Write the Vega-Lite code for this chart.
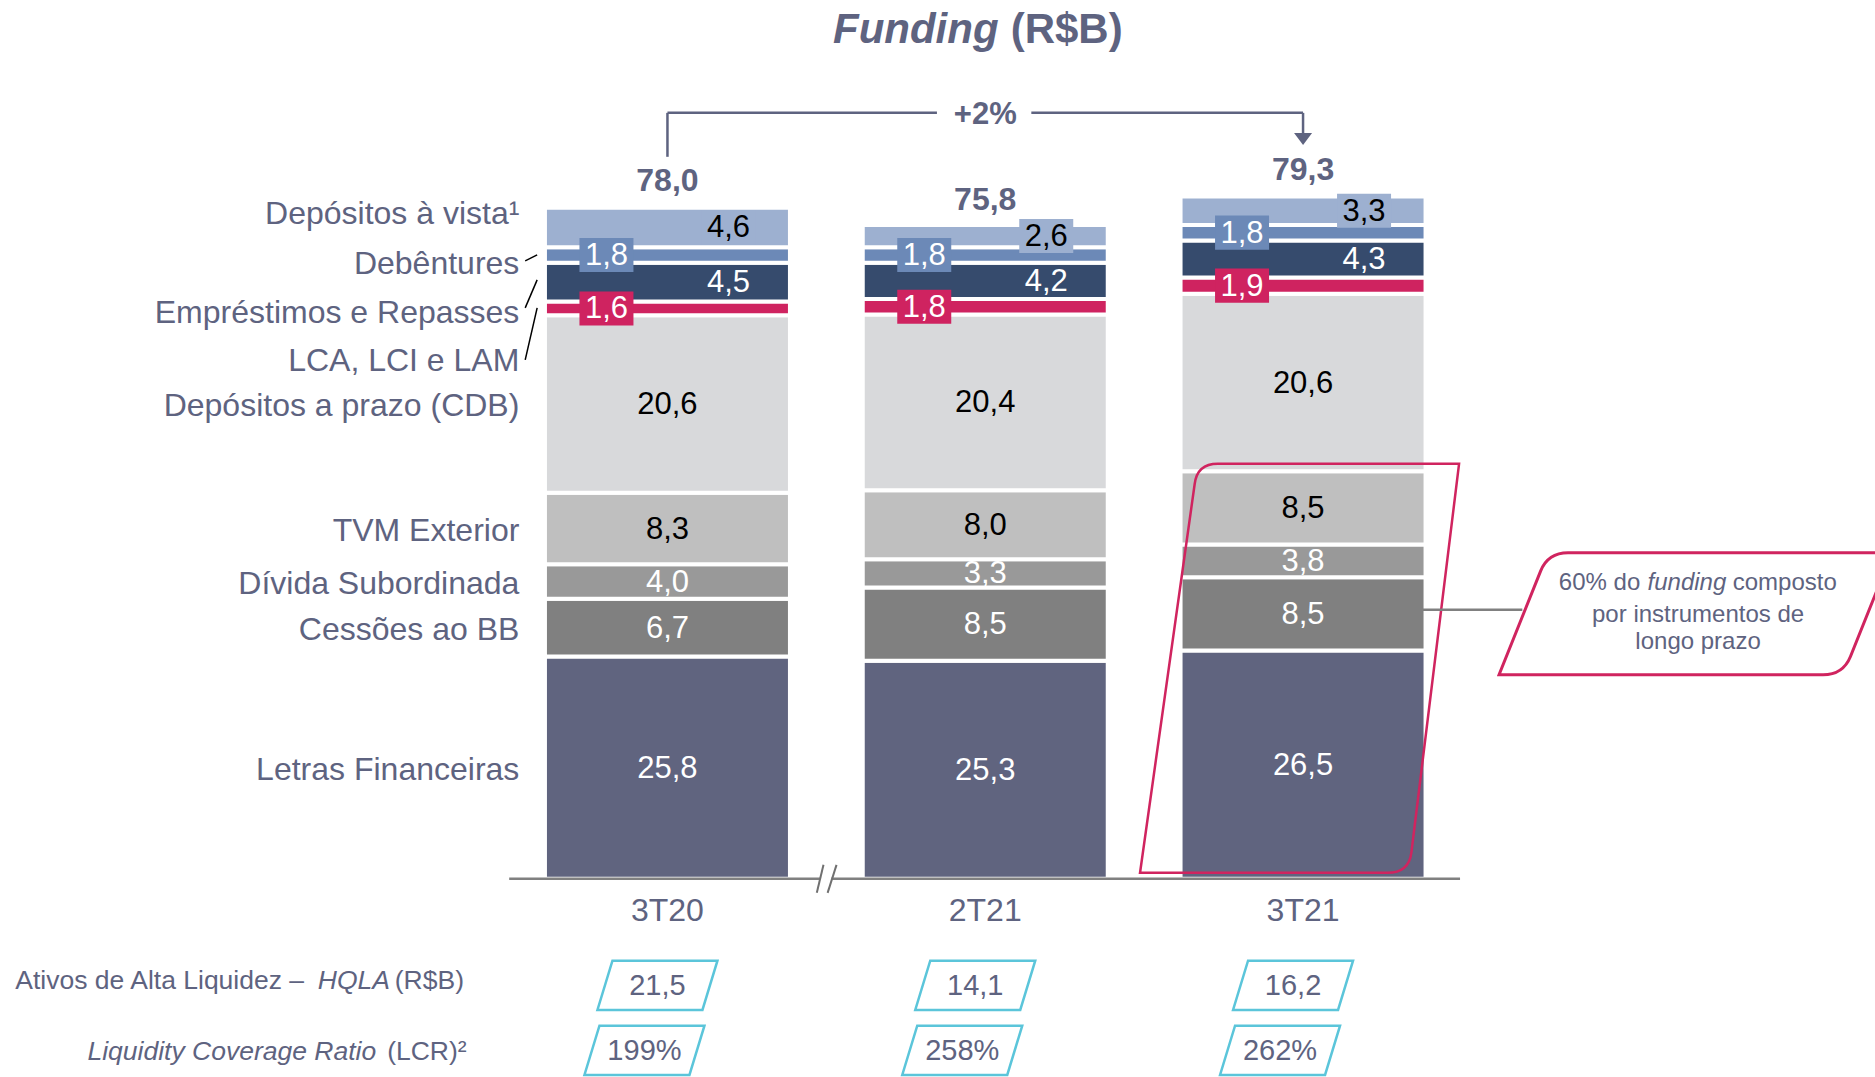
{
  "$schema": "https://vega.github.io/schema/vega-lite/v6.json",
  "width": 1875,
  "height": 1077,
  "autosize": "none",
  "padding": 0,
  "background": "white",
  "config": {
    "view": {"stroke": null},
    "locale": {"number": {"decimal": ",", "thousands": ".", "grouping": [3], "currency": ["R$", ""]}},
    "text": {"font": "Liberation Sans"}
  },
  "datasets": {
    "one": [{}],
    "funding": [
      {"period": "3T20", "t": 1, "series": "Letras Financeiras", "ord": 1, "value": 25.8},
      {"period": "3T20", "t": 1, "series": "Cessões ao BB", "ord": 2, "value": 6.7},
      {"period": "3T20", "t": 1, "series": "Dívida Subordinada", "ord": 3, "value": 4.0},
      {"period": "3T20", "t": 1, "series": "TVM Exterior", "ord": 4, "value": 8.3},
      {"period": "3T20", "t": 1, "series": "Depósitos a prazo (CDB)", "ord": 5, "value": 20.6},
      {"period": "3T20", "t": 1, "series": "LCA, LCI e LAM", "ord": 6, "value": 1.6},
      {"period": "3T20", "t": 1, "series": "Empréstimos e Repasses", "ord": 7, "value": 4.5},
      {"period": "3T20", "t": 1, "series": "Debêntures", "ord": 8, "value": 1.8},
      {"period": "3T20", "t": 1, "series": "Depósitos à vista¹", "ord": 9, "value": 4.6},
      {"period": "2T21", "t": 2, "series": "Letras Financeiras", "ord": 1, "value": 25.3},
      {"period": "2T21", "t": 2, "series": "Cessões ao BB", "ord": 2, "value": 8.5},
      {"period": "2T21", "t": 2, "series": "Dívida Subordinada", "ord": 3, "value": 3.3},
      {"period": "2T21", "t": 2, "series": "TVM Exterior", "ord": 4, "value": 8.0},
      {"period": "2T21", "t": 2, "series": "Depósitos a prazo (CDB)", "ord": 5, "value": 20.4},
      {"period": "2T21", "t": 2, "series": "LCA, LCI e LAM", "ord": 6, "value": 1.8},
      {"period": "2T21", "t": 2, "series": "Empréstimos e Repasses", "ord": 7, "value": 4.2},
      {"period": "2T21", "t": 2, "series": "Debêntures", "ord": 8, "value": 1.8},
      {"period": "2T21", "t": 2, "series": "Depósitos à vista¹", "ord": 9, "value": 2.6},
      {"period": "3T21", "t": 3, "series": "Letras Financeiras", "ord": 1, "value": 26.5},
      {"period": "3T21", "t": 3, "series": "Cessões ao BB", "ord": 2, "value": 8.5},
      {"period": "3T21", "t": 3, "series": "Dívida Subordinada", "ord": 3, "value": 3.8},
      {"period": "3T21", "t": 3, "series": "TVM Exterior", "ord": 4, "value": 8.5},
      {"period": "3T21", "t": 3, "series": "Depósitos a prazo (CDB)", "ord": 5, "value": 20.6},
      {"period": "3T21", "t": 3, "series": "LCA, LCI e LAM", "ord": 6, "value": 1.9},
      {"period": "3T21", "t": 3, "series": "Empréstimos e Repasses", "ord": 7, "value": 4.3},
      {"period": "3T21", "t": 3, "series": "Debêntures", "ord": 8, "value": 1.8},
      {"period": "3T21", "t": 3, "series": "Depósitos à vista¹", "ord": 9, "value": 3.3}
    ],
    "summary": [
      {"period": "3T20", "t": 1, "total": 78.0, "hqla": 21.5, "lcr": 1.99},
      {"period": "2T21", "t": 2, "total": 75.8, "hqla": 14.1, "lcr": 2.58},
      {"period": "3T21", "t": 3, "total": 79.3, "hqla": 16.2, "lcr": 2.62}
    ]
  },
  "data": {"name": "one"},
  "layer": [
    {
      "data": {"name": "funding"},
      "transform": [{"stack": "value", "groupby": ["period"], "sort": [{"field": "ord", "order": "ascending"}], "as": ["y0", "y1"]}],
      "mark": {"type": "bar", "width": 245, "stroke": "white", "strokeWidth": 4},
      "encoding": {
        "x": {"field": "t", "type": "quantitative", "scale": {"domain": [-1.0845, 4.784], "nice": false, "zero": false}, "axis": null},
        "y": {"field": "y0", "type": "quantitative", "scale": {"domain": [-23, 102], "nice": false, "zero": false}, "axis": null},
        "y2": {"field": "y1"},
        "color": {"field": "series", "type": "nominal", "legend": null,
          "scale": {"domain": ["Letras Financeiras", "Cessões ao BB", "Dívida Subordinada", "TVM Exterior", "Depósitos a prazo (CDB)", "LCA, LCI e LAM", "Empréstimos e Repasses", "Debêntures", "Depósitos à vista¹"],
                    "range": ["#60647f", "#808080", "#999999", "#bfbfbf", "#d8d9db", "#cf2360", "#364b6d", "#6c89b7", "#9db0d0"]}}
      }
    },
    {
      "mark": {"type": "point", "shape": "M-0.40,-1 L0.78,-1 L0.547,0.90 Q0.535,1 0.43,1 L-0.78,1 L-0.513,-0.90 Q-0.501,-1 -0.40,-1 Z", "size": 167281, "filled": false, "stroke": "#d0245f", "strokeWidth": 2.5, "opacity": 1},
      "encoding": {
        "x": {"datum": 2.989, "type": "quantitative", "scale": {"domain": [-1.0845, 4.784], "nice": false, "zero": false}},
        "y": {"datum": 24.43, "type": "quantitative", "scale": {"domain": [-23, 102], "nice": false, "zero": false}}
      }
    },
    {
      "mark": {"type": "rule", "color": "#808080", "strokeWidth": 2.5},
      "encoding": {
        "x": {"datum": 3.284, "type": "quantitative", "scale": {"domain": [-1.0845, 4.784], "nice": false, "zero": false}},
        "x2": {"datum": 3.69},
        "y": {"datum": 31.22, "type": "quantitative", "scale": {"domain": [-23, 102], "nice": false, "zero": false}}
      }
    },
    {
      "mark": {"type": "point", "shape": "M-2.09,-1 L3.221,-1 L2.54,0.70 Q2.418,1 2.09,1 L-3.221,1 L-2.54,-0.70 Q-2.418,-1 -2.09,-1 Z", "size": 14884, "filled": true, "fill": "white", "stroke": "#d0245f", "strokeWidth": 3, "opacity": 1},
      "encoding": {
        "x": {"datum": 4.235, "type": "quantitative", "scale": {"domain": [-1.0845, 4.784], "nice": false, "zero": false}},
        "y": {"datum": 30.76, "type": "quantitative", "scale": {"domain": [-23, 102], "nice": false, "zero": false}}
      }
    },
    {
      "data": {"name": "funding"},
      "transform": [
        {"stack": "value", "groupby": ["period"], "sort": [{"field": "ord", "order": "ascending"}], "as": ["y0", "y1"]},
        {"fold": ["y0", "y1"], "as": ["edge", "pos"]},
        {"aggregate": [{"op": "mean", "field": "pos", "as": "mid"}], "groupby": ["period", "t", "series", "value"]}
      ],
      "layer": [
        {
          "transform": [{"filter": {"field": "series", "oneOf": ["Letras Financeiras", "Cessões ao BB", "Dívida Subordinada"]}}],
          "mark": {"type": "text", "fontSize": 31, "color": "white", "baseline": "middle", "align": "center", "dy": 1},
          "encoding": {
            "x": {"field": "t", "type": "quantitative", "scale": {"domain": [-1.0845, 4.784], "nice": false, "zero": false}},
            "y": {"field": "mid", "type": "quantitative", "scale": {"domain": [-23, 102], "nice": false, "zero": false}},
            "text": {"field": "value", "type": "quantitative", "format": ".1f"}
          }
        },
        {
          "transform": [{"filter": {"field": "series", "oneOf": ["TVM Exterior", "Depósitos a prazo (CDB)"]}}],
          "mark": {"type": "text", "fontSize": 31, "color": "black", "baseline": "middle", "align": "center", "dy": 1},
          "encoding": {
            "x": {"field": "t", "type": "quantitative", "scale": {"domain": [-1.0845, 4.784], "nice": false, "zero": false}},
            "y": {"field": "mid", "type": "quantitative", "scale": {"domain": [-23, 102], "nice": false, "zero": false}},
            "text": {"field": "value", "type": "quantitative", "format": ".1f"}
          }
        },
        {
          "transform": [{"filter": {"field": "series", "oneOf": ["Debêntures", "LCA, LCI e LAM"]}}],
          "mark": {"type": "point", "shape": "M-1,-0.63 L1,-0.63 L1,0.63 L-1,0.63 Z", "size": 2916, "filled": true, "opacity": 1, "strokeWidth": 0, "xOffset": -61},
          "encoding": {
            "x": {"field": "t", "type": "quantitative", "scale": {"domain": [-1.0845, 4.784], "nice": false, "zero": false}},
            "y": {"field": "mid", "type": "quantitative", "scale": {"domain": [-23, 102], "nice": false, "zero": false}},
            "color": {"field": "series", "type": "nominal", "legend": null,
              "scale": {"domain": ["Letras Financeiras", "Cessões ao BB", "Dívida Subordinada", "TVM Exterior", "Depósitos a prazo (CDB)", "LCA, LCI e LAM", "Empréstimos e Repasses", "Debêntures", "Depósitos à vista¹"],
                        "range": ["#60647f", "#808080", "#999999", "#bfbfbf", "#d8d9db", "#cf2360", "#364b6d", "#6c89b7", "#9db0d0"]}}
          }
        },
        {
          "transform": [{"filter": {"field": "series", "oneOf": ["Debêntures", "LCA, LCI e LAM"]}}],
          "mark": {"type": "text", "fontSize": 31, "color": "white", "baseline": "middle", "align": "center", "dx": -61, "dy": 1},
          "encoding": {
            "x": {"field": "t", "type": "quantitative", "scale": {"domain": [-1.0845, 4.784], "nice": false, "zero": false}},
            "y": {"field": "mid", "type": "quantitative", "scale": {"domain": [-23, 102], "nice": false, "zero": false}},
            "text": {"field": "value", "type": "quantitative", "format": ".1f"}
          }
        },
        {
          "transform": [{"filter": {"field": "series", "equal": "Depósitos à vista¹"}}],
          "mark": {"type": "point", "shape": "M-1,-0.63 L1,-0.63 L1,0.63 L-1,0.63 Z", "size": 2916, "filled": true, "opacity": 1, "strokeWidth": 0, "xOffset": 61},
          "encoding": {
            "x": {"field": "t", "type": "quantitative", "scale": {"domain": [-1.0845, 4.784], "nice": false, "zero": false}},
            "y": {"field": "mid", "type": "quantitative", "scale": {"domain": [-23, 102], "nice": false, "zero": false}},
            "color": {"field": "series", "type": "nominal", "legend": null,
              "scale": {"domain": ["Letras Financeiras", "Cessões ao BB", "Dívida Subordinada", "TVM Exterior", "Depósitos a prazo (CDB)", "LCA, LCI e LAM", "Empréstimos e Repasses", "Debêntures", "Depósitos à vista¹"],
                        "range": ["#60647f", "#808080", "#999999", "#bfbfbf", "#d8d9db", "#cf2360", "#364b6d", "#6c89b7", "#9db0d0"]}}
          }
        },
        {
          "transform": [{"filter": {"field": "series", "equal": "Depósitos à vista¹"}}],
          "mark": {"type": "text", "fontSize": 31, "color": "black", "baseline": "middle", "align": "center", "dx": 61, "dy": 1},
          "encoding": {
            "x": {"field": "t", "type": "quantitative", "scale": {"domain": [-1.0845, 4.784], "nice": false, "zero": false}},
            "y": {"field": "mid", "type": "quantitative", "scale": {"domain": [-23, 102], "nice": false, "zero": false}},
            "text": {"field": "value", "type": "quantitative", "format": ".1f"}
          }
        },
        {
          "transform": [{"filter": {"field": "series", "equal": "Empréstimos e Repasses"}}],
          "mark": {"type": "text", "fontSize": 31, "color": "white", "baseline": "middle", "align": "center", "dx": 61, "dy": 1},
          "encoding": {
            "x": {"field": "t", "type": "quantitative", "scale": {"domain": [-1.0845, 4.784], "nice": false, "zero": false}},
            "y": {"field": "mid", "type": "quantitative", "scale": {"domain": [-23, 102], "nice": false, "zero": false}},
            "text": {"field": "value", "type": "quantitative", "format": ".1f"}
          }
        },
        {
          "transform": [{"filter": {"field": "period", "equal": "3T20"}}, {"filter": {"field": "series", "oneOf": ["Letras Financeiras", "Cessões ao BB", "Dívida Subordinada", "TVM Exterior", "Depósitos a prazo (CDB)"]}}],
          "mark": {"type": "text", "fontSize": 32, "color": "#5e6380", "baseline": "middle", "align": "right", "dy": 2},
          "encoding": {
            "x": {"datum": 0.534, "type": "quantitative", "scale": {"domain": [-1.0845, 4.784], "nice": false, "zero": false}},
            "y": {"field": "mid", "type": "quantitative", "scale": {"domain": [-23, 102], "nice": false, "zero": false}},
            "text": {"field": "series", "type": "nominal"}
          }
        },
        {
          "transform": [{"filter": {"field": "period", "equal": "3T20"}}, {"filter": {"field": "series", "equal": "Depósitos à vista¹"}}],
          "mark": {"type": "text", "fontSize": 32, "color": "#5e6380", "baseline": "middle", "align": "right", "dy": -13},
          "encoding": {
            "x": {"datum": 0.534, "type": "quantitative", "scale": {"domain": [-1.0845, 4.784], "nice": false, "zero": false}},
            "y": {"field": "mid", "type": "quantitative", "scale": {"domain": [-23, 102], "nice": false, "zero": false}},
            "text": {"field": "series", "type": "nominal"}
          }
        },
        {
          "transform": [{"filter": {"field": "period", "equal": "3T20"}}, {"filter": {"field": "series", "equal": "Debêntures"}}],
          "mark": {"type": "text", "fontSize": 32, "color": "#5e6380", "baseline": "middle", "align": "right", "dy": 8.5},
          "encoding": {
            "x": {"datum": 0.534, "type": "quantitative", "scale": {"domain": [-1.0845, 4.784], "nice": false, "zero": false}},
            "y": {"field": "mid", "type": "quantitative", "scale": {"domain": [-23, 102], "nice": false, "zero": false}},
            "text": {"field": "series", "type": "nominal"}
          }
        },
        {
          "transform": [{"filter": {"field": "period", "equal": "3T20"}}, {"filter": {"field": "series", "equal": "Empréstimos e Repasses"}}],
          "mark": {"type": "text", "fontSize": 32, "color": "#5e6380", "baseline": "middle", "align": "right", "dy": 30.5},
          "encoding": {
            "x": {"datum": 0.534, "type": "quantitative", "scale": {"domain": [-1.0845, 4.784], "nice": false, "zero": false}},
            "y": {"field": "mid", "type": "quantitative", "scale": {"domain": [-23, 102], "nice": false, "zero": false}},
            "text": {"field": "series", "type": "nominal"}
          }
        },
        {
          "transform": [{"filter": {"field": "period", "equal": "3T20"}}, {"filter": {"field": "series", "equal": "LCA, LCI e LAM"}}],
          "mark": {"type": "text", "fontSize": 32, "color": "#5e6380", "baseline": "middle", "align": "right", "dy": 53},
          "encoding": {
            "x": {"datum": 0.534, "type": "quantitative", "scale": {"domain": [-1.0845, 4.784], "nice": false, "zero": false}},
            "y": {"field": "mid", "type": "quantitative", "scale": {"domain": [-23, 102], "nice": false, "zero": false}},
            "text": {"field": "series", "type": "nominal"}
          }
        }
      ]
    },
    {
      "data": {"name": "summary"},
      "layer": [
        {
          "mark": {"type": "text", "fontSize": 32, "fontWeight": "bold", "color": "#5e6380", "baseline": "bottom", "align": "center", "dy": -9},
          "encoding": {
            "x": {"field": "t", "type": "quantitative", "scale": {"domain": [-1.0845, 4.784], "nice": false, "zero": false}},
            "y": {"field": "total", "type": "quantitative", "scale": {"domain": [-23, 102], "nice": false, "zero": false}},
            "text": {"field": "total", "type": "quantitative", "format": ".1f"}
          }
        },
        {
          "mark": {"type": "text", "fontSize": 32, "color": "#5e6380", "baseline": "middle", "align": "center"},
          "encoding": {
            "x": {"field": "t", "type": "quantitative", "scale": {"domain": [-1.0845, 4.784], "nice": false, "zero": false}},
            "y": {"datum": -3.7, "type": "quantitative", "scale": {"domain": [-23, 102], "nice": false, "zero": false}},
            "text": {"field": "period", "type": "nominal"}
          }
        },
        {
          "mark": {"type": "point", "shape": "M-0.75,-0.41 L1,-0.41 L0.75,0.41 L-1,0.41 Z", "size": 14400, "filled": true, "fill": "white", "stroke": "#5bc5da", "strokeWidth": 2.5, "opacity": 1, "xOffset": -10},
          "encoding": {
            "x": {"field": "t", "type": "quantitative", "scale": {"domain": [-1.0845, 4.784], "nice": false, "zero": false}},
            "y": {"datum": -12.36, "type": "quantitative", "scale": {"domain": [-23, 102], "nice": false, "zero": false}}
          }
        },
        {
          "mark": {"type": "text", "fontSize": 29, "color": "#5e6380", "baseline": "middle", "align": "center", "dx": -10, "dy": 1},
          "encoding": {
            "x": {"field": "t", "type": "quantitative", "scale": {"domain": [-1.0845, 4.784], "nice": false, "zero": false}},
            "y": {"datum": -12.36, "type": "quantitative", "scale": {"domain": [-23, 102], "nice": false, "zero": false}},
            "text": {"field": "hqla", "type": "quantitative", "format": ".1f"}
          }
        },
        {
          "mark": {"type": "point", "shape": "M-0.75,-0.41 L1,-0.41 L0.75,0.41 L-1,0.41 Z", "size": 14400, "filled": true, "fill": "white", "stroke": "#5bc5da", "strokeWidth": 2.5, "opacity": 1, "xOffset": -23},
          "encoding": {
            "x": {"field": "t", "type": "quantitative", "scale": {"domain": [-1.0845, 4.784], "nice": false, "zero": false}},
            "y": {"datum": -19.9, "type": "quantitative", "scale": {"domain": [-23, 102], "nice": false, "zero": false}}
          }
        },
        {
          "mark": {"type": "text", "fontSize": 29, "color": "#5e6380", "baseline": "middle", "align": "center", "dx": -23, "dy": 1},
          "encoding": {
            "x": {"field": "t", "type": "quantitative", "scale": {"domain": [-1.0845, 4.784], "nice": false, "zero": false}},
            "y": {"datum": -19.9, "type": "quantitative", "scale": {"domain": [-23, 102], "nice": false, "zero": false}},
            "text": {"field": "lcr", "type": "quantitative", "format": ".0%"}
          }
        }
      ]
    },
    {
      "mark": {"type": "rule", "color": "#808080", "strokeWidth": 2.5},
      "encoding": {
        "x": {"datum": 0.502, "type": "quantitative", "scale": {"domain": [-1.0845, 4.784], "nice": false, "zero": false}},
        "x2": {"datum": 1.48},
        "y": {"datum": 0, "type": "quantitative", "scale": {"domain": [-23, 102], "nice": false, "zero": false}}
      }
    },
    {
      "mark": {"type": "rule", "color": "#808080", "strokeWidth": 2.5},
      "encoding": {
        "x": {"datum": 1.516, "type": "quantitative", "scale": {"domain": [-1.0845, 4.784], "nice": false, "zero": false}},
        "x2": {"datum": 3.494},
        "y": {"datum": 0, "type": "quantitative", "scale": {"domain": [-23, 102], "nice": false, "zero": false}}
      }
    },
    {
      "mark": {"type": "rule", "color": "#707070", "strokeWidth": 2},
      "encoding": {
        "x": {"datum": 1.470, "type": "quantitative", "scale": {"domain": [-1.0845, 4.784], "nice": false, "zero": false}},
        "x2": {"datum": 1.491},
        "y": {"datum": -1.625, "type": "quantitative", "scale": {"domain": [-23, 102], "nice": false, "zero": false}},
        "y2": {"datum": 1.625}
      }
    },
    {
      "mark": {"type": "rule", "color": "#707070", "strokeWidth": 2},
      "encoding": {
        "x": {"datum": 1.504, "type": "quantitative", "scale": {"domain": [-1.0845, 4.784], "nice": false, "zero": false}},
        "x2": {"datum": 1.532},
        "y": {"datum": -1.625, "type": "quantitative", "scale": {"domain": [-23, 102], "nice": false, "zero": false}},
        "y2": {"datum": 1.625}
      }
    },
    {
      "mark": {"type": "rule", "color": "black", "strokeWidth": 1.5},
      "encoding": {
        "x": {"datum": 0.5524, "type": "quantitative", "scale": {"domain": [-1.0845, 4.784], "nice": false, "zero": false}},
        "x2": {"datum": 0.590},
        "y": {"datum": 71.73, "type": "quantitative", "scale": {"domain": [-23, 102], "nice": false, "zero": false}},
        "y2": {"datum": 72.42}
      }
    },
    {
      "mark": {"type": "rule", "color": "black", "strokeWidth": 1.5},
      "encoding": {
        "x": {"datum": 0.5524, "type": "quantitative", "scale": {"domain": [-1.0845, 4.784], "nice": false, "zero": false}},
        "x2": {"datum": 0.590},
        "y": {"datum": 66.27, "type": "quantitative", "scale": {"domain": [-23, 102], "nice": false, "zero": false}},
        "y2": {"datum": 69.52}
      }
    },
    {
      "mark": {"type": "rule", "color": "black", "strokeWidth": 1.5},
      "encoding": {
        "x": {"datum": 0.5524, "type": "quantitative", "scale": {"domain": [-1.0845, 4.784], "nice": false, "zero": false}},
        "x2": {"datum": 0.590},
        "y": {"datum": 60.24, "type": "quantitative", "scale": {"domain": [-23, 102], "nice": false, "zero": false}},
        "y2": {"datum": 66.27}
      }
    },
    {
      "mark": {"type": "rule", "color": "#5e6380", "strokeWidth": 2.5},
      "encoding": {
        "x": {"datum": 1.0, "type": "quantitative", "scale": {"domain": [-1.0845, 4.784], "nice": false, "zero": false}},
        "y": {"datum": 83.8, "type": "quantitative", "scale": {"domain": [-23, 102], "nice": false, "zero": false}},
        "y2": {"datum": 88.9}
      }
    },
    {
      "mark": {"type": "rule", "color": "#5e6380", "strokeWidth": 2.5},
      "encoding": {
        "x": {"datum": 1.0, "type": "quantitative", "scale": {"domain": [-1.0845, 4.784], "nice": false, "zero": false}},
        "x2": {"datum": 1.848},
        "y": {"datum": 88.9, "type": "quantitative", "scale": {"domain": [-23, 102], "nice": false, "zero": false}}
      }
    },
    {
      "mark": {"type": "rule", "color": "#5e6380", "strokeWidth": 2.5},
      "encoding": {
        "x": {"datum": 2.145, "type": "quantitative", "scale": {"domain": [-1.0845, 4.784], "nice": false, "zero": false}},
        "x2": {"datum": 3.0},
        "y": {"datum": 88.9, "type": "quantitative", "scale": {"domain": [-23, 102], "nice": false, "zero": false}}
      }
    },
    {
      "mark": {"type": "rule", "color": "#5e6380", "strokeWidth": 2.5},
      "encoding": {
        "x": {"datum": 3.0, "type": "quantitative", "scale": {"domain": [-1.0845, 4.784], "nice": false, "zero": false}},
        "y": {"datum": 86.5, "type": "quantitative", "scale": {"domain": [-23, 102], "nice": false, "zero": false}},
        "y2": {"datum": 88.9}
      }
    },
    {
      "mark": {"type": "point", "shape": "M-1,-0.67 L1,-0.67 L0,0.67 Z", "size": 324, "filled": true, "color": "#5e6380", "opacity": 1},
      "encoding": {
        "x": {"datum": 3.0, "type": "quantitative", "scale": {"domain": [-1.0845, 4.784], "nice": false, "zero": false}},
        "y": {"datum": 85.87, "type": "quantitative", "scale": {"domain": [-23, 102], "nice": false, "zero": false}}
      }
    },
    {
      "mark": {"type": "text", "fontSize": 31, "fontWeight": "bold", "color": "#5e6380", "baseline": "middle", "align": "center"},
      "encoding": {
        "x": {"datum": 2.0, "type": "quantitative", "scale": {"domain": [-1.0845, 4.784], "nice": false, "zero": false}},
        "y": {"datum": 88.6, "type": "quantitative", "scale": {"domain": [-23, 102], "nice": false, "zero": false}},
        "text": {"value": "+2%"}
      }
    },
    {
      "mark": {"type": "text", "fontSize": 42, "fontWeight": "bold", "fontStyle": "italic", "color": "#5e6380", "baseline": "middle", "align": "right"},
      "encoding": {
        "x": {"datum": 2.042, "type": "quantitative", "scale": {"domain": [-1.0845, 4.784], "nice": false, "zero": false}},
        "y": {"datum": 98.54, "type": "quantitative", "scale": {"domain": [-23, 102], "nice": false, "zero": false}},
        "text": {"value": "Funding"}
      }
    },
    {
      "mark": {"type": "text", "fontSize": 42, "fontWeight": "bold", "color": "#5e6380", "baseline": "middle", "align": "left"},
      "encoding": {
        "x": {"datum": 2.080, "type": "quantitative", "scale": {"domain": [-1.0845, 4.784], "nice": false, "zero": false}},
        "y": {"datum": 98.54, "type": "quantitative", "scale": {"domain": [-23, 102], "nice": false, "zero": false}},
        "text": {"value": "(R$B)"}
      }
    },
    {
      "mark": {"type": "text", "fontSize": 24, "color": "#5e6380", "baseline": "middle", "align": "right"},
      "encoding": {
        "x": {"datum": 4.061, "type": "quantitative", "scale": {"domain": [-1.0845, 4.784], "nice": false, "zero": false}},
        "y": {"datum": 34.35, "type": "quantitative", "scale": {"domain": [-23, 102], "nice": false, "zero": false}},
        "text": {"value": "60% do"}
      }
    },
    {
      "mark": {"type": "text", "fontSize": 24, "fontStyle": "italic", "color": "#5e6380", "baseline": "middle", "align": "center"},
      "encoding": {
        "x": {"datum": 4.208, "type": "quantitative", "scale": {"domain": [-1.0845, 4.784], "nice": false, "zero": false}},
        "y": {"datum": 34.35, "type": "quantitative", "scale": {"domain": [-23, 102], "nice": false, "zero": false}},
        "text": {"value": "funding"}
      }
    },
    {
      "mark": {"type": "text", "fontSize": 24, "color": "#5e6380", "baseline": "middle", "align": "left"},
      "encoding": {
        "x": {"datum": 4.352, "type": "quantitative", "scale": {"domain": [-1.0845, 4.784], "nice": false, "zero": false}},
        "y": {"datum": 34.35, "type": "quantitative", "scale": {"domain": [-23, 102], "nice": false, "zero": false}},
        "text": {"value": "composto"}
      }
    },
    {
      "mark": {"type": "text", "fontSize": 24, "color": "#5e6380", "baseline": "middle", "align": "center"},
      "encoding": {
        "x": {"datum": 4.243, "type": "quantitative", "scale": {"domain": [-1.0845, 4.784], "nice": false, "zero": false}},
        "y": {"datum": 30.64, "type": "quantitative", "scale": {"domain": [-23, 102], "nice": false, "zero": false}},
        "text": {"value": "por instrumentos de"}
      }
    },
    {
      "mark": {"type": "text", "fontSize": 24, "color": "#5e6380", "baseline": "middle", "align": "center"},
      "encoding": {
        "x": {"datum": 4.243, "type": "quantitative", "scale": {"domain": [-1.0845, 4.784], "nice": false, "zero": false}},
        "y": {"datum": 27.51, "type": "quantitative", "scale": {"domain": [-23, 102], "nice": false, "zero": false}},
        "text": {"value": "longo prazo"}
      }
    },
    {
      "mark": {"type": "text", "fontSize": 26.5, "color": "#5e6380", "baseline": "middle", "align": "left"},
      "encoding": {
        "x": {"datum": -1.052, "type": "quantitative", "scale": {"domain": [-1.0845, 4.784], "nice": false, "zero": false}},
        "y": {"datum": -11.84, "type": "quantitative", "scale": {"domain": [-23, 102], "nice": false, "zero": false}},
        "text": {"value": "Ativos de Alta Liquidez –"}
      }
    },
    {
      "mark": {"type": "text", "fontSize": 26.5, "fontStyle": "italic", "color": "#5e6380", "baseline": "middle", "align": "left"},
      "encoding": {
        "x": {"datum": -0.1, "type": "quantitative", "scale": {"domain": [-1.0845, 4.784], "nice": false, "zero": false}},
        "y": {"datum": -11.84, "type": "quantitative", "scale": {"domain": [-23, 102], "nice": false, "zero": false}},
        "text": {"value": "HQLA"}
      }
    },
    {
      "mark": {"type": "text", "fontSize": 26.5, "color": "#5e6380", "baseline": "middle", "align": "left"},
      "encoding": {
        "x": {"datum": 0.142, "type": "quantitative", "scale": {"domain": [-1.0845, 4.784], "nice": false, "zero": false}},
        "y": {"datum": -11.84, "type": "quantitative", "scale": {"domain": [-23, 102], "nice": false, "zero": false}},
        "text": {"value": "(R$B)"}
      }
    },
    {
      "mark": {"type": "text", "fontSize": 26.5, "fontStyle": "italic", "color": "#5e6380", "baseline": "middle", "align": "left"},
      "encoding": {
        "x": {"datum": -0.825, "type": "quantitative", "scale": {"domain": [-1.0845, 4.784], "nice": false, "zero": false}},
        "y": {"datum": -20.08, "type": "quantitative", "scale": {"domain": [-23, 102], "nice": false, "zero": false}},
        "text": {"value": "Liquidity Coverage Ratio"}
      }
    },
    {
      "mark": {"type": "text", "fontSize": 26.5, "color": "#5e6380", "baseline": "middle", "align": "left"},
      "encoding": {
        "x": {"datum": 0.118, "type": "quantitative", "scale": {"domain": [-1.0845, 4.784], "nice": false, "zero": false}},
        "y": {"datum": -20.08, "type": "quantitative", "scale": {"domain": [-23, 102], "nice": false, "zero": false}},
        "text": {"value": "(LCR)²"}
      }
    }
  ]
}
